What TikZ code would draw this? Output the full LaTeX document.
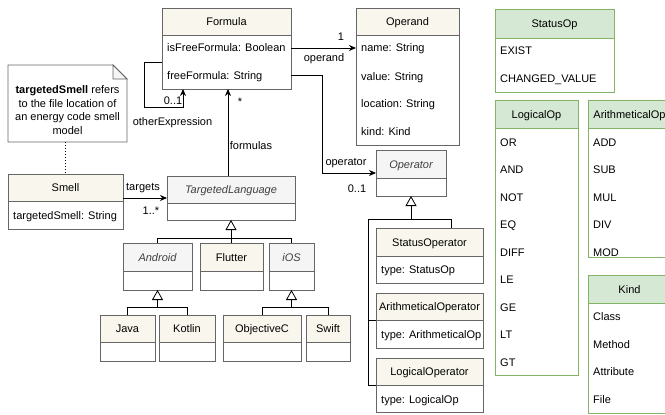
\documentclass[tikz,border=0pt]{standalone}
\usepackage{fontspec}
\setmainfont{Liberation Sans}
\usetikzlibrary{arrows.meta,calc}

\definecolor{clsfill}{HTML}{F9F7ED}
\definecolor{absfill}{HTML}{F5F5F5}
\definecolor{enumfill}{HTML}{D5E8D4}
\definecolor{enumline}{HTML}{82B366}
\definecolor{clsline}{HTML}{666666}

\tikzset{
  txt/.style={font=\fontsize{11}{13}\selectfont, inner sep=0pt, text height=8pt, text depth=0pt},
  lbl/.style={txt},
  conn/.style={line width=0.8pt, draw=black},
  assoc/.style={conn, -{Stealth[length=7pt,width=6pt]}},
  gen/.style={conn, -{Triangle[open,length=10pt,width=11pt,fill=white]}},
  notelink/.style={line width=1pt, dotted},
}

% #1 name, #2 x1, #3 y1, #4 x2, #5 header bottom, #6 y2, #7 header fill, #8 stroke, #9 title
\newcommand{\umlbox}[9]{%
  \node[draw=#8, fill=white, line width=0.8pt, inner sep=0pt, outer sep=0pt,
        minimum width={#4-#2}, minimum height={#6-#3}] (#1) at ({(#2+#4)/2},{(#3+#6)/2}) {};
  \draw[draw=#8, fill=#7, line width=0.8pt] (#2,#3) rectangle (#4,#5);
  \node[txt] (#1-t) at ({(#2+#4)/2},{(#3+#5)/2}) {#9};
}
% #1 name, #2 x, #3 y, #4 text
\newcommand{\umlrow}[4]{\node[txt, anchor=west] (#1) at (#2,#3) {#4};}

\begin{document}
\begin{tikzpicture}[x=1pt,y=-1pt]
\useasboundingbox (0,0) rectangle (665,415);

% ---------- Formula and Operand ----------
\umlbox{formula}{162}{8}{291}{35}{89}{clsfill}{clsline}{Formula}
\umlrow{fo-r1}{167}{48}{isFreeFormula: Boolean}
\umlrow{fo-r2}{167}{75}{freeFormula: String}

\umlbox{operand}{356}{8}{459}{35}{145}{clsfill}{clsline}{Operand}
\umlrow{od-r1}{361}{48}{name: String}
\umlrow{od-r2}{361}{76}{value: String}
\umlrow{od-r3}{361}{103}{location: String}
\umlrow{od-r4}{361}{131}{kind: Kind}

% ---------- Operators ----------
\umlbox{operator}{376}{150}{446}{178}{196}{absfill}{clsline}{\textit{\color{black!75}Operator}}
\umlbox{statusop}{376}{228}{483}{256}{283}{clsfill}{clsline}{StatusOperator}
\umlrow{so-r1}{381}{269}{type: StatusOp}
\umlbox{arithop}{376}{293}{483}{320}{348}{clsfill}{clsline}{ArithmeticalOperator}
\umlrow{ao-r1}{381}{334}{type: ArithmeticalOp}
\umlbox{logicop}{376}{358}{483}{385}{412}{clsfill}{clsline}{LogicalOperator}
\umlrow{lo-r1}{381}{399}{type: LogicalOp}

% ---------- Smell and targeted languages ----------
\umlbox{smell}{8}{174}{123}{201}{229}{clsfill}{clsline}{Smell}
\umlrow{sm-r1}{13}{215}{targetedSmell: String}

\umlbox{tl}{167}{176}{295}{203}{220}{absfill}{clsline}{\textit{\color{black!75}TargetedLanguage}}
\umlbox{android}{123}{243}{192}{271}{290}{absfill}{clsline}{\textit{\color{black!75}Android}}
\umlbox{flutter}{200}{243}{263}{271}{290}{clsfill}{clsline}{Flutter}
\umlbox{ios}{269}{243}{314}{271}{290}{absfill}{clsline}{\textit{\color{black!75}iOS}}
\umlbox{java}{100}{315}{155}{342}{361}{clsfill}{clsline}{Java}
\umlbox{kotlin}{159}{315}{215}{342}{361}{clsfill}{clsline}{Kotlin}
\umlbox{objc}{223}{315}{301}{342}{361}{clsfill}{clsline}{ObjectiveC}
\umlbox{swift}{306}{315}{350}{342}{361}{clsfill}{clsline}{Swift}

% ---------- Enumerations ----------
\umlbox{statusenum}{495}{9}{614}{38}{92}{enumfill}{enumline}{StatusOp}
\umlrow{se-r1}{500}{50}{EXIST}
\umlrow{se-r2}{500}{78}{CHANGED\_VALUE}

\umlbox{logicenum}{495}{100}{578}{128}{375}{enumfill}{enumline}{LogicalOp}
\foreach \t [count=\i] in {OR,AND,NOT,EQ,DIFF,LE,GE,LT,GT}
  {\umlrow{le-r\i}{500}{{114.5+27.5*\i}}{\t}}

\umlbox{arithenum}{588}{100}{671}{128}{257}{enumfill}{enumline}{ArithmeticalOp}
\foreach \t [count=\i] in {ADD,SUB,MUL,DIV,MOD}
  {\umlrow{ae-r\i}{593}{{114.5+27.5*\i}}{\t}}

\umlbox{kindenum}{588}{275}{671}{303}{413}{enumfill}{enumline}{Kind}
\foreach \t [count=\i] in {Class,Method,Attribute,File}
  {\umlrow{ke-r\i}{593}{{289+27.5*\i}}{\t}}

% ---------- Note ----------
\node[inner sep=0pt, outer sep=0pt, minimum width=119pt, minimum height=77pt] (note) at (67.5,103.5) {};
\draw[line width=0.8pt, draw=clsline, fill=white]
  (note.north west) -- ($(note.north east)+(-14,0)$) -- ($(note.north east)+(0,14)$)
  -- (note.south east) -- (note.south west) -- cycle;
\draw[line width=0.8pt, draw=clsline, fill=absfill]
  ($(note.north east)+(-14,0)$) -- ($(note.north east)+(-14,14)$) -- ($(note.north east)+(0,14)$) -- cycle;
\node[font=\fontsize{11}{13.5}\selectfont, align=center, inner sep=0pt] (note-t) at (67.5,110)
  {\textbf{targetedSmell} refers\\to the file location of\\an energy code smell\\model};
\draw[notelink] (smell.north |- note.south) -- (smell.north);

% ---------- Associations ----------
\coordinate (loopstart) at ($(formula.west)+(0,13.5)$);
\draw[assoc] (loopstart) -- ++(-18,0) |- ($(formula.south west)+(21,18)$) -- ($(formula.south west)+(21,0)$);
\node[lbl] at (173,100) {0..1};
\node[lbl] at (172.5,121) {otherExpression};

\coordinate (fmls) at ($(tl.north)+(-3,0)$);
\draw[assoc] (fmls) -- (fmls |- formula.south);
\node[lbl] at (240,101) {*};
\node[lbl] at (251,145) {formulas};

\draw[assoc] (formula.east |- fo-r1) -- (operand.west |- fo-r1);
\node[lbl] at (341,36) {1};
\node[lbl] at (324,57) {operand};

\draw[assoc] (formula.east |- fo-r2) -- ++(31,0) |- (operator.west);
\node[lbl] at (346,161) {operator};
\node[lbl] at (357,188) {0..1};

\draw[assoc] (smell.east |- tl.west) -- (tl.west);
\node[lbl] at (143,186) {targets};
\node[lbl] at (151,210) {1..*};

% ---------- Generalisations ----------
\draw[conn] (android.north) -- ++(0,-5) -| (ios.north);
\draw[gen] (flutter.north -| tl.south) -- (tl.south);

\draw[conn] (java.north) -- ++(0,-8) -| (kotlin.north);
\draw[gen] ($(android.south |- java.north)+(0,-8)$) -- (android.south);

\draw[conn] (objc.north) -- ++(0,-8) -| (swift.north);
\draw[gen] ($(ios.south |- objc.north)+(0,-8)$) -- (ios.south);

\coordinate (sotop) at ($(statusop.north west)+(75,0)$);
\draw[conn] (sotop) |- (368,219) |- (logicop.west);
\draw[conn] (arithop.west) -- ++(-8,0);
\draw[gen] (operator.south |- 0,219) -- (operator.south);

\end{tikzpicture}
\end{document}
